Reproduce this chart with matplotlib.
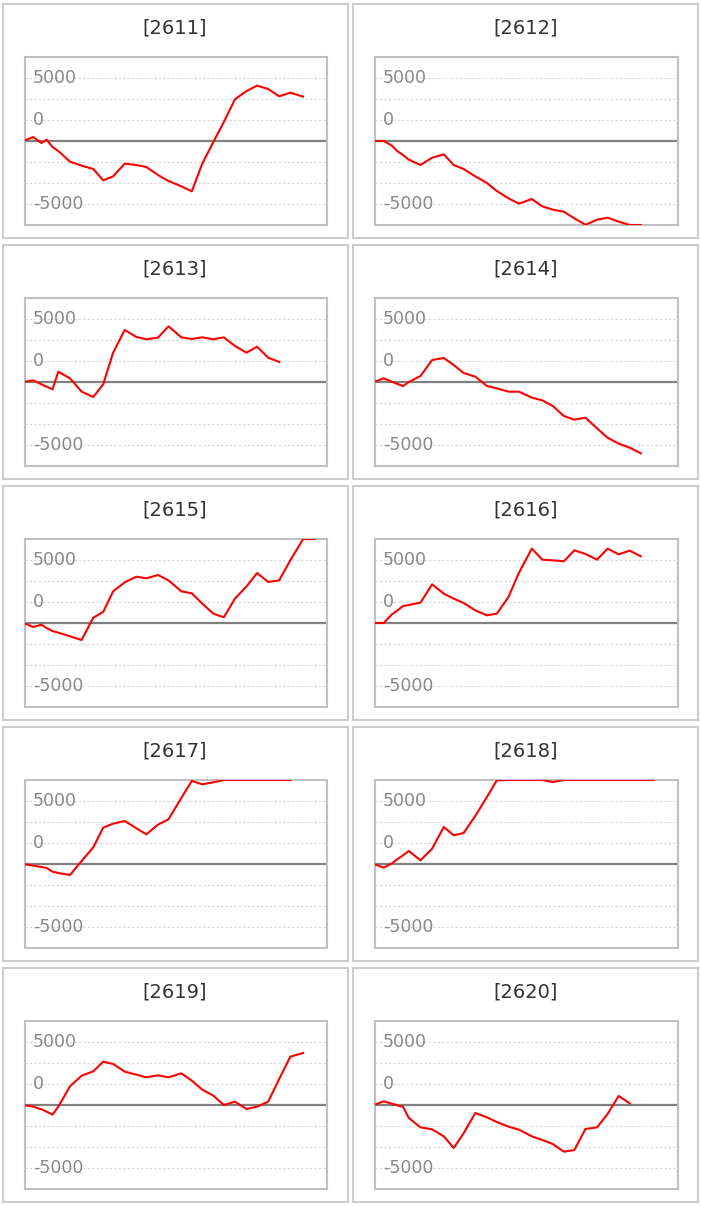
import matplotlib
matplotlib.use("Agg")
import matplotlib.pyplot as plt
import numpy as np
from matplotlib.patches import Rectangle

# ---------------------------------------------------------------------------
# data (values above/below the limit are clipped)
# ---------------------------------------------------------------------------
CODES = ["2611", "2612", "2613", "2614", "2615",
         "2616", "2617", "2618", "2619", "2620"]

DAYS = [0, 1.7, 3.1, 4, 5, 6, 8, 10, 12, 13.7, 15.4, 17.4, 19.4, 21.1, 23.1,
        24.9, 27.1, 28.9, 30.7, 32.6, 34.4, 36.3, 38.3, 40.1, 42, 43.9, 45.8,
        48, 50]

P2611 = [0, 318, -159, 106, -476, -794, -1640, -1958, -2222, -3122, -2805,
         -1799, -1905, -2064, -2699, -3175, -3598, -3995, -1799, -79, 1508,
         3307, 3969, 4392, 4127, 3545, 3836, 3519]
P2612 = [0, 0, -370, -794, -1111, -1482, -1905, -1323, -1058, -1905, -2222,
         -2805, -3334, -3969, -4551, -4974, -4604, -5186, -5451, -5609, -6138,
         -6650, -6244, -6086, -6403, -6700, -6900]
P2613 = [0, 132, -185, -370, -582, 820, 291, -767, -1191, -185, 2328, 4128,
         3572, 3387, 3519, 4419, 3546, 3413, 3546, 3387, 3546, 2858, 2328,
         2805, 1932, 1588]
P2614 = [0, 291, 26, -150, -318, 0, 476, 1746, 1905, 1349, 714, 423, -318,
         -503, -767, -767, -1244, -1455, -1905, -2699, -2990, -2831, -3678,
         -4419, -4895, -5213, -5662]
P2615 = [0, -318, -132, -397, -635, -767, -1058, -1349, 423, 873, 2514, 3228,
         3678, 3546, 3810, 3387, 2514, 2355, 1535, 741, 450, 1932, 2911, 3969,
         3255, 3387, 4974, 6700, 7200]
P2616 = [0, 0, 688, 979, 1349, 1429, 1614, 3069, 2328, 1932, 1588, 1005, 609,
         741, 2064, 3995, 5901, 5027, 4974, 4895, 5768, 5477, 5027, 5901, 5451,
         5742, 5292]
P2617 = [0, -132, -238, -318, -609, -714, -873, 238, 1323, 2884, 3202, 3413,
         2831, 2355, 3122, 3546, 5239, 6589, 6324, 6483, 6700, 7000, 7200,
         7100, 7300, 7200, 7000]
P2618 = [0, -291, 53, 370, 688, 1032, 291, 1217, 2937, 2276, 2461, 3810, 5318,
         6641, 7100, 7300, 7000, 6700, 6500, 6700, 7000, 7200, 7400, 7300,
         7500, 7200, 7400, 7600]
P2619 = [0, -132, -344, -529, -767, -132, 1482, 2328, 2672, 3440, 3255, 2646,
         2408, 2196, 2355, 2196, 2514, 1932, 1217, 741, 0, 265, -318, -132,
         265, 2064, 3837, 4128]
P2620 = [0, 291, 106, -26, -132, -1032, -1773, -1932, -2487, -3413, -2249,
         -635, -979, -1349, -1720, -1958, -2487, -2778, -3096, -3704, -3572,
         -1905, -1773, -714, 714, 132]

SERIES = [P2611, P2612, P2613, P2614, P2615,
          P2616, P2617, P2618, P2619, P2620]

LIM = 20000 / 3
GRID_VALUES = [-5000, -LIM / 2, -LIM / 4, LIM / 4, LIM / 2, 5000]
LABELS = [(5000, "5000"), (LIM / 4, "0"), (-5000, "-5000")]

# ---------------------------------------------------------------------------
# layout (pixels)
# ---------------------------------------------------------------------------
W, H = 701, 1206
COL_DX = 350.5
ROW_DY = 241.0

fig = plt.figure(figsize=(W / 100, H / 100), dpi=100)
fig.patch.set_facecolor("white")

for i, (code, vals) in enumerate(zip(CODES, SERIES)):
    row, col = divmod(i, 2)
    zero_y = 141 + ROW_DY * row

    # outer panel box
    bx = 2.5 + COL_DX * col
    box = Rectangle((bx / W, 1 - (zero_y + 97) / H), 345 / W, 234 / H,
                    transform=fig.transFigure, fill=False,
                    edgecolor="#cccccc", linewidth=1.5)
    fig.patches.append(box)

    fig.text((175 + COL_DX * col) / W, 1 - (zero_y - 113) / H, f"[{code}]",
             ha="center", va="center", fontsize=14, color="#333333")

    left = 24.5 + COL_DX * col
    ax = fig.add_axes([left / W, 1 - (zero_y + 84) / H, 302.5 / W, 168 / H])
    ax.set_xlim(0.2, 52.1)
    ax.set_ylim(-LIM, LIM)
    ax.set_xticks([])
    ax.set_yticks([])
    for sp in ax.spines.values():
        sp.set_color("#c0c0c0")
        sp.set_linewidth(1.5)
        sp.set_zorder(2.5)

    for v in GRID_VALUES:
        ax.axhline(v, color="#d6d6d6", linewidth=0.8,
                   linestyle=(0, (2, 2)), zorder=1)
    ax.axhline(0, color="#808080", linewidth=1.6, zorder=1.5)

    for v, txt in LABELS:
        ax.text(0.027, v, txt, transform=ax.get_yaxis_transform(),
                ha="left", va="center", fontsize=12.5, color="#888888",
                zorder=1.8)

    y = np.clip(np.array(vals, dtype=float), -LIM, LIM)
    ax.plot(DAYS[:len(vals)], y, color="#ff0000", linewidth=1.5, zorder=3)

fig.savefig("out.png", dpi=100, facecolor="white")
plt.close(fig)
